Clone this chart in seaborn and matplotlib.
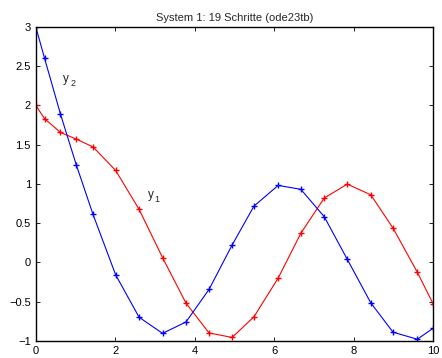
import numpy as np
import pandas as pd
import matplotlib
matplotlib.use("Agg")
import matplotlib.pyplot as plt
import seaborn as sns

# solver steps (19 steps -> 20 points)
t = [0.0, 0.22, 0.62, 1.02, 1.44, 2.01, 2.60, 3.19, 3.78, 4.36,
     4.94, 5.49, 6.10, 6.67, 7.26, 7.84, 8.43, 8.99, 9.60, 10.0]
y1 = [2.0, 1.83, 1.655, 1.57, 1.47, 1.17, 0.674, 0.06, -0.52, -0.90,
      -0.957, -0.694, -0.20, 0.37, 0.82, 0.996, 0.86, 0.436, -0.125, -0.53]
y2 = [3.0, 2.60, 1.89, 1.24, 0.61, -0.16, -0.70, -0.905, -0.76, -0.345,
      0.22, 0.716, 0.98, 0.93, 0.58, 0.037, -0.516, -0.89, -0.98, -0.84]

df = pd.DataFrame({'t': t + t, 'y': y1 + y2,
                   'var': ['y1'] * len(t) + ['y2'] * len(t)})

sns.set_style("ticks")
plt.rcParams['font.family'] = ['Liberation Sans', 'DejaVu Sans']
plt.rcParams['xtick.direction'] = 'in'
plt.rcParams['ytick.direction'] = 'in'

fig = plt.figure(figsize=(4.42, 3.58), dpi=100)
ax = fig.add_axes([0.081, 0.048, 0.899, 0.877])

sns.lineplot(data=df, x='t', y='y', hue='var', palette={'y1': 'red', 'y2': 'blue'},
             marker='+', markersize=5, linewidth=0.8,
             sort=False, legend=False, ax=ax)
for ln in ax.lines:
    ln.set_markeredgecolor(ln.get_color())
    ln.set_markeredgewidth(1.0)

# curve labels: y with subscript drawn as two texts
for (lx, ly, sub) in [(0.69, 2.30, '2'), (2.82, 0.82, '1')]:
    ax.text(lx, ly, 'y', fontsize=8.5)
    ax.annotate(sub, (lx, ly), xytext=(5, -3), textcoords='offset points',
                fontsize=6.5)

ax.set_xlim(0, 10)
ax.set_ylim(-1, 3)
ax.set_xticks([0, 2, 4, 6, 8, 10])
ax.set_yticks([-1, -0.5, 0, 0.5, 1, 1.5, 2, 2.5, 3])
ax.set_yticklabels(['\u22121', '\u22120.5', '0', '0.5', '1', '1.5', '2', '2.5', '3'])
ax.tick_params(labelsize=8, top=True, right=True, length=3, width=0.6,
               colors='black')
for s in ax.spines.values():
    s.set_linewidth(1.0)
    s.set_color('black')
ax.set_xlabel('')
ax.set_ylabel('')
ax.set_title('System 1: 19 Schritte (ode23tb)', fontsize=8, pad=4)

fig.savefig('out.png', dpi=100)
